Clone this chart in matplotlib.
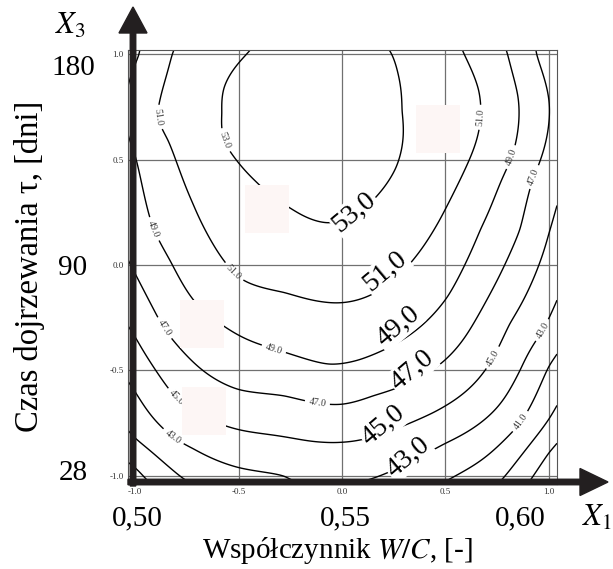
import numpy as np
import matplotlib.pyplot as plt
from matplotlib.patches import FancyArrow, Rectangle

plt.rcParams['font.family'] = ['Liberation Serif', 'DejaVu Serif']
plt.rcParams['mathtext.fontset'] = 'stix'

# contour lines: (x1, x3) points for each level
lev53_x1 = [-0.46, -0.57, -0.58, -0.57, -0.52, -0.41, -0.25, -0.07, 0.18, 0.26, 0.29, 0.27, 0.24]
lev53_x3 = [1.0, 0.84, 0.72, 0.59, 0.51, 0.39, 0.27, 0.20, 0.34, 0.46, 0.73, 0.91, 1.0]
lev51_x1 = [-0.82, -0.88, -0.89, -0.84, -0.72, -0.57, -0.48, -0.28, -0.09, 0.03, 0.34, 0.47, 0.62, 0.67, 0.66, 0.59]
lev51_x3 = [1.0, 0.78, 0.70, 0.59, 0.29, 0.02, -0.07, -0.13, -0.175, -0.175, 0.02, 0.21, 0.51, 0.70, 0.83, 1.0]
lev49_x1 = [-0.98, -1.0, -1.0, -0.91, -0.83, -0.57, -0.32, -0.06, 0.08, 0.51, 0.67, 0.77, 0.82, 0.85, 0.80]
lev49_x3 = [1.0, 0.95, 0.52, 0.17, 0.02, -0.29, -0.40, -0.47, -0.45, -0.15, 0.17, 0.40, 0.51, 0.80, 1.0]
lev47_x1 = [-1.0, -0.86, -0.5, -0.28, 0.0, 0.15, 0.64, 0.86, 0.92, 1.0, 0.94]
lev47_x3 = [-0.04, -0.30, -0.59, -0.62, -0.66, -0.62, -0.27, 0.17, 0.40, 0.78, 1.0]
lev45_x1 = [-1.0, -0.8, -0.57, -0.5, -0.09, 0.0, 0.44, 0.73, 0.81, 1.0]
lev45_x3 = [-0.34, -0.63, -0.76, -0.78, -0.84, -0.84, -0.70, -0.44, -0.28, 0.15]
lev43_x1 = [-1.0, -0.81, -0.72, -0.5, -0.28, -0.22, 0.12, 0.49, 0.86, 0.97]
lev43_x3 = [-0.60, -0.82, -0.87, -0.96, -1.0, -1.03, -1.02, -0.85, -0.50, -0.31]
lev41_x1 = [-1.0, -0.77, 0.51, 0.86, 1.0]
lev41_x3 = [-0.82, -1.01, -1.02, -0.75, -0.48]
lev39_x1 = [-1.0, 0.77, 1.0]
lev39_x3 = [-0.96, -1.02, -0.73]
lev37_x1 = [0.91, 1.0]
lev37_x3 = [-1.02, -0.89]

levels = [37, 39, 41, 43, 45, 47, 49, 51, 53]
big_labels = ['53,0', '51,0', '49,0', '47,0', '45,0', '43,0']
x3_ticks = ['28', '90', '180']
x1_ticks = ['0,50', '0,55', '0,60']

pts = [(lev37_x1, lev37_x3, 37), (lev39_x1, lev39_x3, 39), (lev41_x1, lev41_x3, 41),
       (lev43_x1, lev43_x3, 43), (lev45_x1, lev45_x3, 45), (lev47_x1, lev47_x3, 47),
       (lev49_x1, lev49_x3, 49), (lev51_x1, lev51_x3, 51), (lev53_x1, lev53_x3, 53)]
px = np.concatenate([np.array(a) for a, b, v in pts])
py = np.concatenate([np.array(b) for a, b, v in pts])
pz = np.concatenate([np.full(len(a), v, float) for a, b, v in pts])


# thin plate spline surface through the read contour points
def tps_kernel(r):
    with np.errstate(divide='ignore', invalid='ignore'):
        k = r * r * np.log(r)
    return np.nan_to_num(k)


n = len(px)
K = tps_kernel(np.hypot(px[:, None] - px[None, :], py[:, None] - py[None, :])) + 1e-3 * np.eye(n)
P = np.column_stack([np.ones(n), px, py])
A = np.block([[K, P], [P.T, np.zeros((3, 3))]])
sol = np.linalg.solve(A, np.concatenate([pz, np.zeros(3)]))
w, a = sol[:n], sol[n:]

g1, g3 = np.meshgrid(np.linspace(-1.034, 1.039, 300), np.linspace(-1.038, 1.019, 300))
r = np.hypot(g1[..., None] - px, g3[..., None] - py)
z = tps_kernel(r) @ w + a[0] + a[1] * g1 + a[2] * g3

fig = plt.figure(figsize=(6.13, 5.69), dpi=100)
ax = fig.add_axes([128 / 613, 1 - 484 / 569, 429 / 613, 434 / 569])
ax.set_xlim(-1.034, 1.039)
ax.set_ylim(-1.038, 1.019)
ax.set_xticks([-1, -0.5, 0, 0.5, 1])
ax.set_yticks([-1, -0.5, 0, 0.5, 1])
ax.set_xticklabels(['-1.0', '-0.5', '0.0', '0.5', '1.0'])
ax.set_yticklabels(['-1.0', '-0.5', '0.0', '0.5', '1.0'])
ax.tick_params(length=0, labelsize=6.5, pad=3, labelcolor='#333333')
ax.grid(True, color='#707070', lw=0.9)
ax.set_axisbelow(True)
for s in ax.spines.values():
    s.set_color('#555555')
    s.set_linewidth(0.8)

cs = ax.contour(g1, g3, z, levels=levels, colors='black', linewidths=1.0)
lbls = ax.clabel(cs, fmt='%.1f', fontsize=7, inline=True, inline_spacing=4,
                 manual=[(-0.57, 0.59), (-0.89, 0.70), (-0.53, -0.04), (0.67, 0.70),
                         (-0.91, 0.17), (-0.33, -0.40), (0.82, 0.51),
                         (-0.86, -0.30), (-0.12, -0.66), (0.92, 0.42),
                         (-0.80, -0.63), (0.73, -0.44), (-0.82, -0.82), (0.97, -0.31),
                         (0.86, -0.74)])
for t in lbls:
    t.set_color('#3a3a3a')

big_pos = [(0.06, 0.25), (0.21, -0.03), (0.27, -0.29), (0.34, -0.50), (0.20, -0.76), (0.32, -0.91)]
for (bx, by), t in zip(big_pos, big_labels):
    ax.text(bx, by, t, fontsize=20, rotation=40, ha='center', va='center', zorder=5,
            bbox=dict(facecolor='white', edgecolor='none', pad=1))

# faint pink patches left over in the original
for (x0, y0) in [(245, 185), (416, 105), (180, 300), (182, 387)]:
    fig.add_artist(Rectangle((x0 / 100, (569 - y0 - 48) / 100), 0.44, 0.48,
                             transform=fig.dpi_scale_trans, facecolor='#fdf6f5',
                             edgecolor='none', zorder=6))

fig.add_artist(FancyArrow(1.33, 0.83, 0, 4.79, width=0.055, head_width=0.28, head_length=0.26,
                          length_includes_head=True, transform=fig.dpi_scale_trans,
                          color='#231f20', zorder=10))
fig.add_artist(FancyArrow(1.28, 0.87, 4.80, 0, width=0.055, head_width=0.27, head_length=0.28,
                          length_includes_head=True, transform=fig.dpi_scale_trans,
                          color='#231f20', zorder=10))

for t, yy in zip(x3_ticks, [473, 268, 68]):
    fig.text(73 / 613, 1 - yy / 569, t, fontsize=21, ha='center', va='center')
for t, xx in zip(x1_ticks, [137, 345, 520]):
    fig.text(xx / 613, 1 - 518 / 569, t, fontsize=21, ha='center', va='center')

fig.text(70 / 613, 1 - 26 / 569, r'$X_3$', fontsize=22, ha='center', va='center')
fig.text(597 / 613, 1 - 518 / 569, r'$X_1$', fontsize=22, ha='center', va='center')
fig.text(30 / 613, 1 - 266 / 569, 'Czas dojrzewania τ, [dni]', fontsize=23.5,
         rotation=90, ha='center', va='center')
fig.text(337 / 613, 1 - 550 / 569, 'Współczynnik $W/C$, [-]', fontsize=21,
         ha='center', va='center')

fig.savefig('out.png', dpi=100)
